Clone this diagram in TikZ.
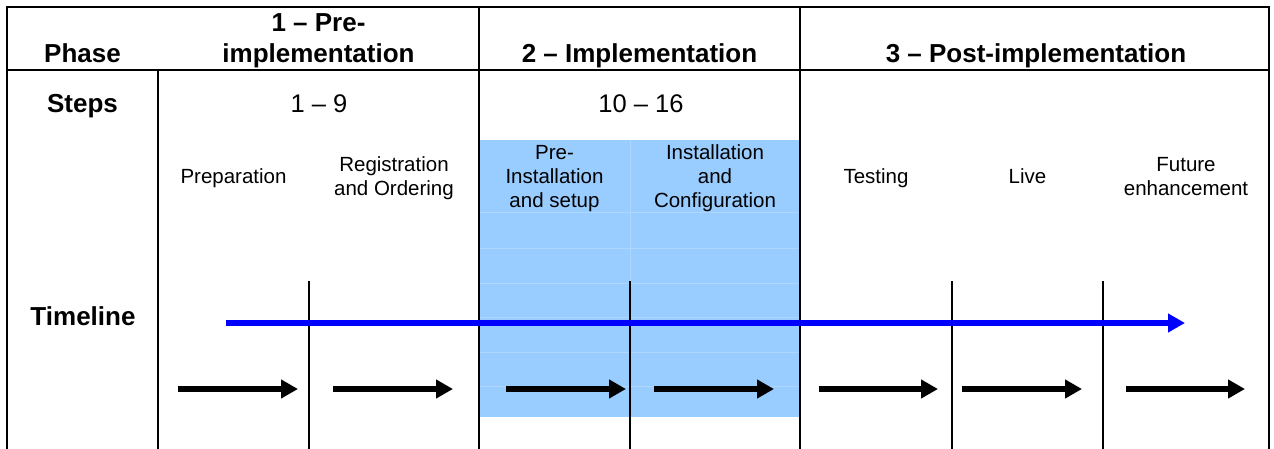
\documentclass[tikz,border=0pt]{standalone}
\usepackage{fontspec}
\setmainfont{Liberation Sans}
\usetikzlibrary{arrows.meta}
\definecolor{panelblue}{HTML}{99CCFF}
\definecolor{panelgrid}{HTML}{AED7FF}
\definecolor{timeblue}{HTML}{0000FF}

\begin{document}
\begin{tikzpicture}[x=1pt,y=-1pt,
  tablerule/.style={line width=2pt, black},
  faintrule/.style={line width=1pt, panelgrid},
  phasehead/.style={font=\fontsize{26}{31}\selectfont\bfseries, inner sep=0pt, align=center, anchor=south},
  rowlabel/.style={font=\fontsize{26}{31}\selectfont\bfseries, inner sep=0pt, anchor=base},
  steprange/.style={font=\fontsize{25.5}{30}\selectfont, inner sep=0pt, anchor=base},
  stagelabel/.style={font=\fontsize{20.5}{24}\selectfont, inner sep=0pt, align=center, anchor=center},
  flowarrow/.style={line width=5.5pt, -{Triangle[length=17pt,width=18pt]}},
]
\useasboundingbox (0,0) rectangle (1274,449);

% highlighted implementation block with its faint cell grid
\fill[panelblue] (479,140) rectangle (800,417);
\foreach \y in {213,248,283,317,352,386}
  \draw[faintrule] (479,\y) -- (800,\y);
\draw[faintrule] (630,140) -- (630,281);

% table frame
\draw[tablerule] (7,449) -- (7,7) -- (1269,7) -- (1269,449);
\draw[tablerule] (7,70) -- (1269,70);
\draw[tablerule] (158,70) -- (158,449);
\draw[tablerule] (479,7) -- (479,449);
\draw[tablerule] (800,7) -- (800,449);

% step separators
\foreach \x in {309,630,952,1103}
  \draw[tablerule] (\x,281) -- (\x,449);

% header row
\node[phasehead] (phase) at (82.5,72.3) {\strut Phase};
\node[phasehead] (ph1) at (318.5,72.3) {\strut 1 -- Pre-\\\strut implementation};
\node[phasehead] (ph2) at (639.5,72.3) {\strut 2 -- Implementation};
\node[phasehead] (ph3) at (1036,72.3) {\strut 3 -- Post-implementation};

% steps row
\node[rowlabel] (steps) at (82.5,113) {Steps};
\node[steprange] (r1) at (319,113) {1 -- 9};
\node[steprange] (r2) at (641,113) {10 -- 16};

% stage labels
\node[stagelabel] (s1) at (233.5,179) {\strut Preparation};
\node[stagelabel] (s2) at (394,179) {\strut Registration\\\strut and Ordering};
\node[stagelabel] (s3) at (554.5,179) {\strut Pre-\\\strut Installation\\\strut and setup};
\node[stagelabel] (s4) at (715,179) {\strut Installation\\\strut and\\\strut Configuration};
\node[stagelabel] (s5) at (876,179) {\strut Testing};
\node[stagelabel] (s6) at (1027.5,179) {\strut Live};
\node[stagelabel] (s7) at (1186,179) {\strut Future\\\strut enhancement};

% timeline
\node[rowlabel] (timeline) at (83,325) {Timeline};
\coordinate (tstart) at (226,323);
\coordinate (tend) at (1185,323);
\draw[flowarrow, timeblue] (tstart) -- (tend);

% per-stage arrows
\foreach \a/\b [count=\i] in {178/298,333/453,506/626,654/774,819/938,962/1082,1126/1245}{
  \coordinate (a\i) at (\a,389);
  \coordinate (b\i) at (\b,389);
  \draw[flowarrow, black] (a\i) -- (b\i);
}
\end{tikzpicture}
\end{document}
